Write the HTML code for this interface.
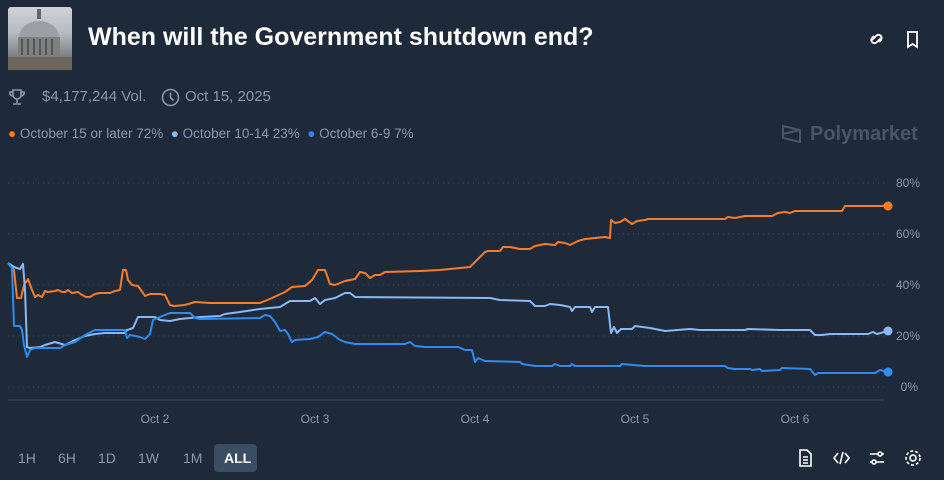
<!DOCTYPE html>
<html><head><meta charset="utf-8"><style>
body{margin:0;width:944px;height:480px;background:#1e2939;font-family:"Liberation Sans",sans-serif;overflow:hidden;position:relative}
.a{position:absolute;white-space:nowrap}
</style></head><body>
<div class="a" style="left:8px;top:7px;width:64px;height:63px;border-radius:3px;background:linear-gradient(180deg,#cfd3d8 0%,#b8bcc2 40%,#8a8d90 70%,#5a5550 100%)"></div>
<svg class="a" style="left:8px;top:7px" width="64" height="63"><rect x="29" y="2" width="4" height="10" fill="#666"/><ellipse cx="31" cy="30" rx="20" ry="16" fill="#9c9fa3"/><rect x="10" y="30" width="42" height="20" fill="#7d7f80"/><g fill="#555"><rect x="13" y="32" width="2" height="16"/><rect x="19" y="32" width="2" height="16"/><rect x="25" y="32" width="2" height="16"/><rect x="31" y="32" width="2" height="16"/><rect x="37" y="32" width="2" height="16"/><rect x="43" y="32" width="2" height="16"/></g><rect x="0" y="50" width="64" height="13" fill="#6b655e"/></svg>
<div class="a" style="left:88px;top:23px;font-size:25px;font-weight:bold;color:#fff">When will the Government shutdown end?</div>
<svg class="a" style="left:868px;top:30px" width="60" height="20" fill="none" stroke="#fff" stroke-width="1.8"><path d="M4 10l4-4a3 3 0 0 1 5 4l-2 2M13 8l-4 4a3 3 0 0 1-5-4l2-2"/><path d="M40 2h9v15l-4.5-3-4.5 3z"/></svg>
<svg class="a" style="left:9px;top:89px" width="16" height="17" fill="none" stroke="#8a99ad" stroke-width="1.6"><path d="M4 1h8v5a4 4 0 0 1-8 0zM4 3H1a3 3 0 0 0 3 4M12 3h3a3 3 0 0 1-3 4M8 10v4M4 15h8"/></svg>
<div class="a" style="left:42px;top:88px;font-size:15px;color:#8a99ad">$4,177,244 Vol.</div>
<svg class="a" style="left:161px;top:88px" width="19" height="19" fill="none" stroke="#8a99ad" stroke-width="1.6"><circle cx="9.5" cy="9.5" r="8"/><path d="M9.5 4.5v5l3 3"/></svg>
<div class="a" style="left:185px;top:88px;font-size:15px;color:#8a99ad">Oct 15, 2025</div>
<div class="a" style="left:8px;top:126px;font-size:13.5px;color:#8a99ad"><span style="color:#f97d27">●</span> October 15 or later 72% &nbsp;<span style="color:#88b9f5">●</span> October 10-14 23% &nbsp;<span style="color:#3e7cf2">●</span> October 6-9 7%</div>
<svg class="a" style="left:780px;top:122px" width="24" height="24" fill="none" stroke="#4a5566" stroke-width="2"><path d="M3 4l17 4v12l-17-4zM3 4v12M20 8L3 12"/></svg>
<div class="a" style="left:810px;top:123px;font-size:20px;font-weight:bold;color:#4a5566">Polymarket</div>
<svg class="a" style="left:0;top:0" width="944" height="480">
<g stroke="#3a4657" stroke-dasharray="1 4" stroke-width="1"><line x1="8" x2="888" y1="183" y2="183"/><line x1="8" x2="888" y1="234" y2="234"/><line x1="8" x2="888" y1="285" y2="285"/><line x1="8" x2="888" y1="336" y2="336"/><line x1="8" x2="888" y1="387" y2="387"/></g>
<line x1="8" x2="884" y1="400" y2="400" stroke="#3a4657"/>
<g font-size="12" fill="#8a99ad" text-anchor="end"><text x="920" y="187">80%</text><text x="920" y="238">60%</text><text x="920" y="289">40%</text><text x="920" y="340">20%</text><text x="918" y="391">0%</text></g>
<g font-size="12" fill="#8a99ad" text-anchor="middle"><text x="155" y="423">Oct 2</text><text x="315" y="423">Oct 3</text><text x="475" y="423">Oct 4</text><text x="635" y="423">Oct 5</text><text x="795" y="423">Oct 6</text></g>
<g fill="none" stroke-width="2" stroke-linejoin="round">
<polyline stroke="#f97d27" points="8,263 14,270 17,298 21,298 24,285 28,279 32,290 35,297 38,295 42,297 45,291 48,292 55,291 58,290 62,292 65,292 68,290 72,293 78,292 82,295 86,297 90,297 95,294 100,293 110,293 115,291 120,290 123,270 126,270 128,280 132,285 138,286 143,293 145,296 150,294 160,294 165,295 170,305 174,306 185,305 195,302 210,303 260,303 265,301 272,298 285,292 292,287 305,286 312,280 318,270 325,270 330,284 335,285 345,281 355,279 360,272 365,273 370,278 375,275 380,275 385,272 420,271 440,270 470,267 485,252 488,251 500,251 503,247 510,247 520,249 530,249 535,246 545,244 555,245 558,242 565,243 570,245 578,241 585,239 595,238 605,237 610,238 611,220 615,223 620,222 625,219 632,224 637,221 645,220 648,219 725,219 728,217 735,218 745,216 772,216 778,213 785,212 790,213 795,211 842,211 845,206 888,206"/>
<polyline stroke="#88b9f5" points="8,263 14,267 20,269 23,264 25,290 27,347 30,348 40,347 45,345 55,342 65,345 75,340 85,336 95,334 105,333 125,333 127,330 133,328 138,317 155,317 160,320 170,321 180,319 200,317 220,316 225,314 240,312 260,309 280,307 290,301 310,301 315,298 320,304 325,300 335,298 345,293 350,293 355,297 490,298 500,300 530,301 535,306 545,306 550,304 560,305 570,307 572,311 575,307 590,307 592,312 595,307 608,307 611,333 614,327 617,333 621,329 632,329 635,326 650,328 665,331 690,329 700,330 745,330 748,329 780,330 810,330 815,335 822,335 830,334 868,334 873,332 877,334 888,331"/>
<polyline stroke="#2e8cf0" points="8,263 12,268 14,326 20,326 22,330 24,345 27,357 30,350 35,348 60,348 65,345 75,342 85,335 95,330 125,330 127,338 130,335 140,337 145,339 150,334 153,320 160,317 170,313 190,313 195,318 200,319 260,318 265,315 270,316 275,322 280,331 285,330 288,334 292,342 295,340 310,339 318,337 325,332 332,334 340,340 345,342 355,344 405,344 410,342 415,346 425,347 458,347 465,350 472,350 475,362 478,358 485,361 520,362 522,364 535,366 552,366 555,364 560,366 570,366 572,364 575,366 620,366 622,364 645,366 725,366 728,368 735,369 750,369 752,370 760,369 762,371 780,370 782,368 810,369 815,375 818,373 875,373 880,370 888,372"/>
</g>
<circle cx="888" cy="206" r="4.5" fill="#f97d27"/><circle cx="888" cy="331" r="4.5" fill="#88b9f5"/><circle cx="888" cy="372" r="4.5" fill="#2e8cf0"/>
</svg>
<div class="a" style="left:214px;top:444px;width:43px;height:28px;background:#3a4d63;border-radius:4px"></div>
<div class="a" style="left:0;top:450px;font-size:14px;color:#8a99ad">
<span class="a" style="left:18px">1H</span><span class="a" style="left:58px">6H</span><span class="a" style="left:98px">1D</span><span class="a" style="left:138px">1W</span><span class="a" style="left:183px">1M</span><span class="a" style="left:224px;color:#fff;font-weight:bold">ALL</span></div>
<svg class="a" style="left:796px;top:448px" width="130" height="20" fill="none" stroke="#fff" stroke-width="1.6"><path d="M4 2h7l4 4v12H4zM7 9h5M7 12h5M7 15h5"/><path d="M42 5l-4 5 4 5M49 5l4 5-4 5M47 4l-3 12"/><path d="M74 6h14M74 14h14"/><circle cx="84" cy="6" r="2" fill="#1e2939"/><circle cx="78" cy="14" r="2" fill="#1e2939"/><circle cx="117" cy="10" r="3"/><circle cx="117" cy="10" r="7" stroke-dasharray="3 2"/></svg>
</body></html>
